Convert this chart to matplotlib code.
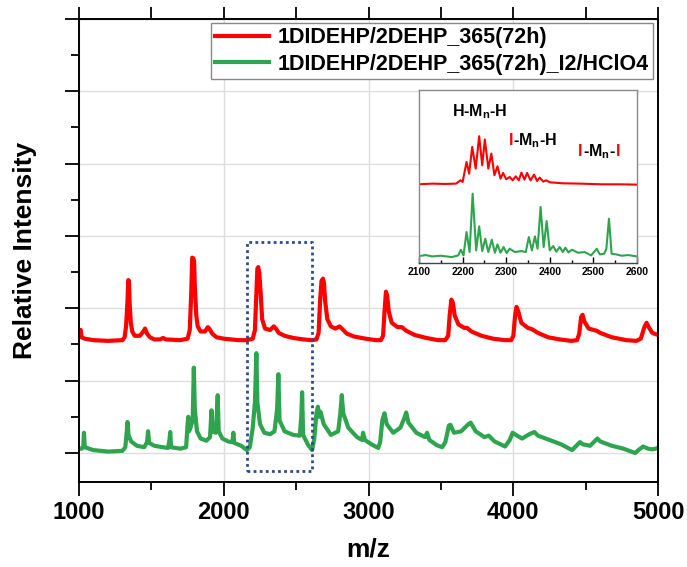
import matplotlib
matplotlib.use("Agg")
import matplotlib.pyplot as plt
from matplotlib.ticker import MultipleLocator, NullFormatter

plt.rcParams['font.family'] = ['Liberation Sans', 'DejaVu Sans']
plt.rcParams['font.weight'] = 'bold'
plt.rcParams['mathtext.fontset'] = 'custom'
plt.rcParams['mathtext.rm'] = 'Liberation Sans'
plt.rcParams['mathtext.bf'] = 'Liberation Sans:bold'

# main spectra (m/z, offset intensity)
red_mz = [1000, 1005, 1012, 1018, 1040, 1100, 1200, 1300, 1315, 1325, 1335, 1340, 1345, 1350, 1358, 1368,
          1385, 1420, 1445, 1456, 1470, 1490, 1520, 1560, 1580, 1600, 1700, 1750, 1765, 1775, 1782, 1790,
          1795, 1800, 1810, 1820, 1840, 1870, 1890, 1900, 1920, 1950, 2000, 2050, 2100, 2160, 2200, 2215,
          2225, 2232, 2238, 2245, 2255, 2265, 2285, 2320, 2345, 2360, 2380, 2420, 2480, 2550, 2610, 2640,
          2655, 2665, 2675, 2685, 2692, 2700, 2715, 2740, 2770, 2800, 2815, 2850, 2900, 2980, 3050, 3085,
          3100, 3110, 3120, 3128, 3140, 3160, 3200, 3230, 3260, 3320, 3400, 3480, 3530, 3550, 3560, 3572,
          3582, 3595, 3620, 3660, 3680, 3710, 3780, 3860, 3940, 3985, 4000, 4012, 4022, 4035, 4055, 4100,
          4130, 4170, 4240, 4320, 4400, 4440, 4455, 4468, 4478, 4490, 4520, 4575, 4600, 4680, 4780, 4850,
          4880, 4905, 4920, 4935, 4960, 5000]
red_int = [1.62, 1.70, 1.70, 1.60, 1.58, 1.56, 1.55, 1.56, 1.60, 1.75, 2.10, 2.39, 2.38, 2.05, 1.80, 1.68,
           1.62, 1.62, 1.68, 1.72, 1.65, 1.60, 1.57, 1.57, 1.59, 1.57, 1.56, 1.58, 1.70, 2.20, 2.70, 2.69,
           2.65, 2.30, 1.90, 1.75, 1.68, 1.68, 1.74, 1.72, 1.65, 1.60, 1.58, 1.57, 1.56, 1.56, 1.58, 1.70,
           2.20, 2.55, 2.57, 2.50, 2.20, 1.85, 1.72, 1.70, 1.75, 1.72, 1.66, 1.62, 1.59, 1.57, 1.56, 1.57,
           1.66, 2.10, 2.38, 2.41, 2.35, 2.10, 1.85, 1.75, 1.72, 1.75, 1.72, 1.65, 1.61, 1.58, 1.56, 1.56,
           1.62, 1.95, 2.23, 2.18, 1.95, 1.80, 1.74, 1.74, 1.69, 1.63, 1.59, 1.56, 1.56, 1.62, 1.90, 2.12,
           2.08, 1.90, 1.78, 1.73, 1.73, 1.68, 1.62, 1.58, 1.56, 1.56, 1.62, 1.90, 2.02, 1.95, 1.80, 1.73,
           1.71, 1.66, 1.60, 1.57, 1.55, 1.56, 1.65, 1.88, 1.91, 1.82, 1.72, 1.69, 1.66, 1.60, 1.56, 1.55,
           1.58, 1.74, 1.80, 1.74, 1.66, 1.63]

green_mz = [1000, 1020, 1030, 1034, 1040, 1100, 1200, 1300, 1320, 1330, 1335, 1342, 1360, 1400, 1450, 1470,
            1477, 1485, 1520, 1580, 1615, 1625, 1630, 1636, 1700, 1740, 1750, 1755, 1760, 1770, 1785, 1793,
            1800, 1815, 1840, 1880, 1905, 1915, 1922, 1945, 1958, 1965, 1990, 2030, 2060, 2066, 2072, 2120,
            2160, 2180, 2200, 2215, 2225, 2232, 2250, 2280, 2320, 2350, 2368, 2377, 2385, 2420, 2480, 2525,
            2535, 2541, 2548, 2580, 2610, 2625, 2640, 2650, 2660, 2668, 2690, 2740, 2790, 2805, 2815, 2825,
            2860, 2920, 2955, 2962, 2975, 3020, 3066, 3080, 3095, 3110, 3125, 3170, 3220, 3250, 3260, 3275,
            3330, 3390, 3404, 3420, 3470, 3508, 3530, 3555, 3565, 3590, 3640, 3690, 3705, 3740, 3800, 3830,
            3870, 3943, 3975, 3995, 4010, 4060, 4110, 4145, 4170, 4250, 4330, 4406, 4430, 4460, 4480, 4530,
            4580, 4600, 4680, 4760, 4841, 4870, 4896, 4930, 4960, 5000]
green_int = [0.06, 0.06, 0.10, 0.28, 0.08, 0.04, 0.02, 0.03, 0.08, 0.30, 0.43, 0.25, 0.16, 0.10, 0.08, 0.15,
             0.30, 0.14, 0.10, 0.08, 0.07, 0.18, 0.29, 0.08, 0.06, 0.08, 0.40, 0.50, 0.30, 0.35, 0.45, 1.18,
             0.60, 0.30, 0.20, 0.17, 0.22, 0.59, 0.30, 0.28, 0.80, 0.30, 0.20, 0.16, 0.15, 0.28, 0.14, 0.10,
             0.04, 0.08, 0.35, 0.70, 1.38, 0.70, 0.40, 0.28, 0.26, 0.30, 0.60, 1.09, 0.45, 0.30, 0.25, 0.24,
             0.50, 0.84, 0.25, 0.12, 0.04, 0.20, 0.55, 0.64, 0.50, 0.57, 0.40, 0.25, 0.30, 0.55, 0.80, 0.55,
             0.35, 0.22, 0.18, 0.28, 0.18, 0.12, 0.07, 0.15, 0.45, 0.55, 0.40, 0.28, 0.35, 0.50, 0.56, 0.42,
             0.28, 0.22, 0.28, 0.18, 0.11, 0.08, 0.15, 0.38, 0.39, 0.28, 0.30, 0.40, 0.42, 0.30, 0.22, 0.24,
             0.16, 0.09, 0.18, 0.28, 0.26, 0.20, 0.26, 0.29, 0.24, 0.18, 0.12, 0.04, 0.09, 0.15, 0.12, 0.10,
             0.20, 0.16, 0.10, 0.06, 0.00, 0.05, 0.09, 0.06, 0.05, 0.07]

# zoomed region 2100-2600
ins_red_mz = [2100, 2130, 2160, 2185, 2195, 2200, 2209, 2215, 2222, 2230, 2238, 2245, 2251, 2259, 2266, 2273,
              2280, 2287, 2293, 2300, 2308, 2315, 2322, 2329, 2335, 2342, 2348, 2356, 2364, 2371, 2377, 2385,
              2392, 2400, 2430, 2470, 2520, 2560, 2600]
ins_red_int = [22.8, 23.0, 22.9, 23.0, 24.0, 23.5, 29.5, 26.0, 34.0, 27.5, 37.2, 28.5, 36.2, 27.5, 32.0, 25.5,
               28.2, 24.5, 26.2, 24.3, 25.0, 24.0, 25.2, 24.0, 26.3, 24.2, 26.2, 24.0, 25.7, 23.8, 24.8, 23.6,
               24.0, 23.4, 23.1, 23.0, 22.8, 22.8, 22.7]
ins_green_mz = [2100, 2115, 2130, 2150, 2175, 2190, 2196, 2202, 2209, 2216, 2223, 2231, 2238, 2245, 2252, 2259,
                2267, 2274, 2280, 2287, 2294, 2301, 2308, 2320, 2335, 2345, 2352, 2359, 2366, 2372, 2379, 2386,
                2393, 2400, 2408, 2415, 2423, 2430, 2436, 2443, 2451, 2465, 2480, 2495, 2508, 2515, 2525, 2530,
                2536, 2542, 2553, 2565, 2580, 2600]
ins_green_int = [1.3, 1.6, 1.2, 1.4, 1.0, 1.5, 3.2, 1.5, 8.5, 2.5, 20.0, 3.0, 10.2, 2.8, 6.5, 2.5,
                 6.2, 2.3, 4.8, 2.3, 4.0, 2.2, 3.5, 2.5, 2.8, 2.5, 7.0, 3.0, 7.2, 3.5, 16.0, 4.0,
                 11.8, 3.0, 4.3, 2.6, 4.0, 2.5, 3.8, 2.4, 3.2, 2.3, 2.5, 1.5, 3.5, 1.8, 2.0, 3.5,
                 12.5, 2.0, 1.8, 1.4, 1.6, 1.2]

labels = ["1DIDEHP/2DEHP_365(72h)", "1DIDEHP/2DEHP_365(72h)_I2/HClO4"]
RED = "#ff0000"
GREEN = "#2ea44f"

fig = plt.figure(figsize=(6.87, 5.67), dpi=100)
ax = fig.add_axes([0.115, 0.150, 0.843, 0.8166])

ax.plot(red_mz, red_int, color=RED, lw=3.0, label=labels[0])
ax.plot(green_mz, green_int, color=GREEN, lw=3.0, label=labels[1])

# dotted box marking the zoomed region
ax.plot([2161, 2610, 2610, 2161, 2161], [-0.25, -0.25, 2.92, 2.92, -0.25],
        color="#2b4b8c", ls=(0, (1, 1.2)), lw=2)

ax.set_xlim(1000, 5000)
ax.set_ylim(-0.4, 6)
ax.xaxis.set_major_locator(MultipleLocator(1000))
ax.xaxis.set_minor_locator(MultipleLocator(500))
ax.yaxis.set_major_locator(MultipleLocator(1))
ax.yaxis.set_minor_locator(MultipleLocator(0.5))
ax.yaxis.set_major_formatter(NullFormatter())
ax.grid(True, which='major', color='#dddddd', lw=1)
ax.set_axisbelow(True)
ax.tick_params(axis='both', which='major', direction='out', length=10, width=1.3, labelsize=17)
ax.tick_params(axis='both', which='minor', direction='out', length=6, width=1.3)
for s in ax.spines.values():
    s.set_linewidth(1.4)

top = ax.secondary_xaxis('top')
top.xaxis.set_major_locator(MultipleLocator(500))
top.xaxis.set_major_formatter(NullFormatter())
top.tick_params(direction='out', length=9, width=1.3)

ax.set_xlabel("m/z", fontsize=19, fontweight='bold', labelpad=10)
ax.set_ylabel("Relative Intensity", fontsize=19, fontweight='bold', labelpad=17)

leg = ax.legend(loc='upper right', bbox_to_anchor=(653 / 687, 1 - 23 / 567), bbox_transform=fig.transFigure,
                borderaxespad=0, fontsize=15.5, frameon=True, fancybox=False, framealpha=1,
                handlelength=2.5, handletextpad=0.4, labelspacing=0.25, borderpad=0.2)
leg.get_frame().set_edgecolor('#888888')
leg.get_frame().set_linewidth(1)

# inset
ins = fig.add_axes([0.610, 0.536, 0.317, 0.305])
ins.plot(ins_red_mz, ins_red_int, color=RED, lw=1.5)
ins.plot(ins_green_mz, ins_green_int, color=GREEN, lw=1.5)
ins.set_xlim(2100, 2600)
ins.set_ylim(-0.8, 51)
ins.xaxis.set_major_locator(MultipleLocator(100))
ins.xaxis.set_minor_locator(MultipleLocator(50))
ins.set_yticks([])
ins.tick_params(axis='x', which='major', direction='in', length=4, width=1, labelsize=7.5, pad=3)
ins.tick_params(axis='x', which='minor', direction='in', length=2.5, width=1)
for s in ins.spines.values():
    s.set_color('#888888')
    s.set_linewidth(1)
ins.spines['bottom'].set_color('#444444')


def colored_label(x, y, parts):
    # write text pieces one after another, each in its own colour
    renderer = fig.canvas.get_renderer()
    for txt, col in parts:
        t = ins.text(x, y, txt, color=col, fontsize=11.5, fontweight='bold', va='center', ha='left')
        bb = t.get_window_extent(renderer)
        x = ins.transData.inverted().transform((bb.x1, bb.y0))[0]


colored_label(2176, 44.5, [(r"H-M$_\mathbf{n}$-H", "black")])
colored_label(2306, 36, [("I", RED), (r"-M$_\mathbf{n}$-H", "black")])
colored_label(2465, 32.5, [("I", RED), (r"-M$_\mathbf{n}$-", "black"), ("I", RED)])

fig.savefig("out.png", dpi=100)
